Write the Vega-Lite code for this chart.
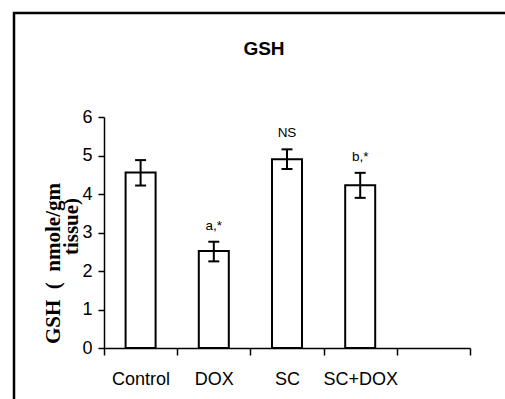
{
  "$schema": "https://vega.github.io/schema/vega-lite/v6.json",
  "width": 500,
  "height": 400,
  "autosize": {"type": "none"},
  "padding": {"left": 14, "top": 13, "right": 0, "bottom": 0},
  "background": "white",
  "title": {
    "text": "GSH",
    "font": "Liberation Sans Narrow, Arial Narrow, Liberation Sans, Arial, sans-serif",
    "fontSize": 19,
    "fontWeight": "bold",
    "color": "black",
    "anchor": "middle",
    "frame": "group",
    "baseline": "alphabetic",
    "offset": -61
  },
  "data": {
    "values": [
      {"group": "Control", "mean": 4.56, "lo": 4.22, "hi": 4.88, "label": ""},
      {"group": "DOX", "mean": 2.52, "lo": 2.25, "hi": 2.76, "label": "a,*"},
      {"group": "SC", "mean": 4.9, "lo": 4.65, "hi": 5.16, "label": "NS"},
      {"group": "SC+DOX", "mean": 4.23, "lo": 3.9, "hi": 4.55, "label": "b,*"}
    ]
  },
  "encoding": {
    "x": {
      "field": "group",
      "type": "nominal",
      "sort": null,
      "scale": {"domain": ["Control", "DOX", "SC", "SC+DOX", " "], "range": [90, 456], "paddingInner": 0, "paddingOuter": 0},
      "axis": {
        "orient": "bottom",
        "offset": -65,
        "title": null,
        "tickBand": "extent",
        "tickSize": 7,
        "tickWidth": 1.5,
        "tickColor": "black",
        "domainColor": "black",
        "domainWidth": 1.5,
        "labelFont": "Liberation Sans Narrow, Arial Narrow, Liberation Sans, Arial, sans-serif",
        "labelFontSize": 18,
        "labelColor": "black",
        "labelPadding": 15,
        "labelAngle": 0,
        "grid": false
      }
    }
  },
  "layer": [
    {
      "mark": {"type": "bar", "size": 30, "fill": "white", "stroke": "black", "strokeWidth": 2},
      "encoding": {
        "y": {
          "field": "mean",
          "type": "quantitative",
          "scale": {"domain": [0, 6], "range": [335, 104], "nice": false, "zero": true},
          "axis": {
            "orient": "left",
            "offset": -90,
            "values": [0, 1, 2, 3, 4, 5, 6],
            "format": "d",
            "grid": false,
            "tickSize": 6,
            "tickWidth": 1.5,
            "tickColor": "black",
            "domainColor": "black",
            "domainWidth": 1.5,
            "labelFont": "Liberation Sans Narrow, Arial Narrow, Liberation Sans, Arial, sans-serif",
            "labelFontSize": 18,
            "labelColor": "black",
            "labelPadding": 6,
            "title": "GSH\u00a0\u00a0(\u00a0\u00a0nmole/gm",
            "titleFont": "Liberation Serif",
            "titleFontSize": 21,
            "titleFontWeight": "bold",
            "titleColor": "black",
            "titleAngle": -90,
            "titleAlign": "center",
            "titleBaseline": "top",
            "titleX": -62,
            "titleY": 250
          }
        }
      }
    },
    {
      "mark": {"type": "rule", "stroke": "black", "strokeWidth": 2},
      "encoding": {
        "y": {"field": "lo", "type": "quantitative", "axis": null},
        "y2": {"field": "hi"}
      }
    },
    {
      "mark": {"type": "tick", "orient": "horizontal", "size": 11, "thickness": 2, "color": "black", "opacity": 1},
      "encoding": {"y": {"field": "lo", "type": "quantitative", "axis": null}}
    },
    {
      "mark": {"type": "tick", "orient": "horizontal", "size": 11, "thickness": 2, "color": "black", "opacity": 1},
      "encoding": {"y": {"field": "hi", "type": "quantitative", "axis": null}}
    },
    {
      "mark": {"type": "text", "baseline": "bottom", "dy": -9, "font": "Liberation Sans Narrow, Arial Narrow, Liberation Sans, Arial, sans-serif", "fontSize": 13.5, "color": "black"},
      "encoding": {
        "y": {
          "field": "hi",
          "type": "quantitative",
          "axis": {
            "orient": "left",
            "offset": -90,
            "domain": false,
            "ticks": false,
            "labels": false,
            "grid": false,
            "title": "tissue)",
            "titleFont": "Liberation Serif",
            "titleFontSize": 21,
            "titleFontWeight": "bold",
            "titleColor": "black",
            "titleAngle": -90,
            "titleAlign": "center",
            "titleBaseline": "top",
            "titleX": -44,
            "titleY": 213
          }
        },
        "text": {"field": "label"}
      }
    }
  ],
  "resolve": {"axis": {"y": "independent"}},
  "config": {
    "view": {"stroke": "black", "strokeWidth": 2.5, "fill": "white"}
  }
}
